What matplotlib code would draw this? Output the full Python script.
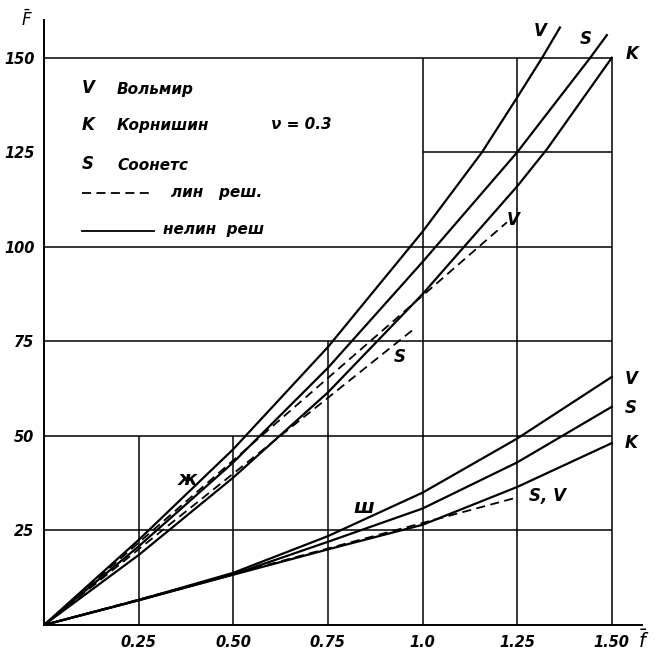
import matplotlib
matplotlib.use("Agg")
import matplotlib.pyplot as plt

# clamped plate (ж) - nonlinear solutions
f_up_V = [0, 0.25, 0.5, 0.75, 1.0, 1.157, 1.25, 1.316, 1.363]
F_up_V = [0, 22.5, 46.5, 73.5, 104, 125, 139.5, 150, 158]
f_up_S = [0, 0.25, 0.5, 0.75, 1.0, 1.25, 1.443, 1.487]
F_up_S = [0, 20.8, 43, 68, 96, 125, 150, 156]
f_up_K = [0, 0.25, 0.5, 0.75, 1.0, 1.25, 1.33, 1.5]
F_up_K = [0, 18.5, 39, 61.5, 87.5, 116, 126, 150]
# clamped plate - linear solutions
f_up_lin_V = [0, 1.223]
F_up_lin_V = [0, 106.5]
f_up_lin_S = [0, 0.98]
F_up_lin_S = [0, 78.5]

# hinged plate (ш) - nonlinear solutions
f_lo = [0, 0.25, 0.5, 0.75, 1.0, 1.25, 1.5]
F_lo_V = [0, 6.6, 13.8, 23.5, 35, 49.3, 65.6]
F_lo_S = [0, 6.5, 13.4, 22, 30.8, 43, 57.7]
F_lo_K = [0, 6.6, 13.3, 20, 26.5, 36.5, 48.1]
# hinged plate - linear solution (S, V)
f_lo_lin = [0, 1.245]
F_lo_lin = [0, 33.6]

x_ticks = [0.25, 0.5, 0.75, 1.0, 1.25, 1.5]
x_labels = ["0.25", "0.50", "0.75", "1.0", "1.25", "1.50"]
y_ticks = [25, 50, 75, 100, 125, 150]
y_labels = ["25", "50", "75", "100", "125", "150"]

fig = plt.figure(figsize=(6.59, 6.52), dpi=100)
ax = fig.add_axes([0.0668, 0.0414, 0.9075, 0.928])
ax.set_xlim(0, 1.58)
ax.set_ylim(0, 160)

font = dict(family="DejaVu Sans", style="italic", weight="bold")

# staircase grid as in the original drawing
glw = 1.1
ax.hlines([150, 100, 75, 50, 25], 0, 1.5, color="black", lw=glw)
ax.hlines(125, 1.0, 1.5, color="black", lw=glw)
ax.vlines([0.25, 0.5], 0, 50, color="black", lw=glw)
ax.vlines(0.75, 0, 75, color="black", lw=glw)
ax.vlines([1.0, 1.25, 1.5], 0, 150, color="black", lw=glw)

lw = 1.6
ax.plot(f_up_V, F_up_V, color="black", lw=lw)
ax.plot(f_up_S, F_up_S, color="black", lw=lw)
ax.plot(f_up_K, F_up_K, color="black", lw=lw)
ax.plot(f_up_lin_V, F_up_lin_V, color="black", lw=1.3, ls=(0, (5, 3)))
ax.plot(f_up_lin_S, F_up_lin_S, color="black", lw=1.3, ls=(0, (5, 3)))

ax.plot(f_lo, F_lo_V, color="black", lw=lw)
ax.plot(f_lo, F_lo_S, color="black", lw=lw)
ax.plot(f_lo, F_lo_K, color="black", lw=lw)
ax.plot(f_lo_lin, F_lo_lin, color="black", lw=1.3, ls=(0, (5, 3)))

# curve labels
ax.text(1.31, 157, "V", fontsize=12, ha="center", va="center", **font)
ax.text(1.43, 155, "S", fontsize=12, ha="center", va="center", **font)
ax.text(1.553, 151, "K", fontsize=12, ha="center", va="center", **font)
ax.text(1.24, 107, "V", fontsize=12, ha="center", va="center", **font)
ax.text(0.94, 71, "S", fontsize=12, ha="center", va="center", **font)
ax.text(1.55, 65, "V", fontsize=12, ha="center", va="center", **font)
ax.text(1.55, 57.5, "S", fontsize=12, ha="center", va="center", **font)
ax.text(1.55, 48, "K", fontsize=12, ha="center", va="center", **font)
ax.text(1.33, 34, "S, V", fontsize=12, ha="center", va="center", **font)
ax.text(0.38, 38.5, "ж", fontsize=14, ha="center", va="center", **font)
ax.text(0.845, 31, "ш", fontsize=14, ha="center", va="center", **font)

# legend block
ax.text(0.1, 142, "V", fontsize=12, va="center", **font)
ax.text(0.193, 141.5, "Вольмир", fontsize=11, va="center", **font)
ax.text(0.1, 132.3, "K", fontsize=12, va="center", **font)
ax.text(0.193, 132, "Корнишин", fontsize=11, va="center", **font)
ax.text(0.6, 132.3, "ν = 0.3", fontsize=11, va="center", **font)
ax.text(0.1, 122, "S", fontsize=12, va="center", **font)
ax.text(0.193, 121.5, "Соонетс", fontsize=11, va="center", **font)
ax.plot([0.1, 0.285], [114.3, 114.3], color="black", lw=1.3, ls=(0, (5, 3)))
ax.text(0.335, 114.5, "лин   реш.", fontsize=11, va="center", **font)
ax.plot([0.1, 0.29], [104.3, 104.3], color="black", lw=1.3)
ax.text(0.315, 104.5, "нелин  реш", fontsize=11, va="center", **font)

ax.set_xticks(x_ticks)
ax.set_xticklabels(x_labels, fontsize=10.5, **font)
ax.set_yticks(y_ticks)
ax.set_yticklabels(y_labels, fontsize=10.5, **font)
ax.tick_params(length=0, pad=7)

ax.spines["top"].set_visible(False)
ax.spines["right"].set_visible(False)
ax.spines["left"].set_linewidth(1.4)
ax.spines["bottom"].set_linewidth(1.4)

ax.text(-0.045, 160, r"$\bar{F}$", fontsize=12, ha="center", va="center")
ax.text(1.583, -4, r"$\bar{f}$", fontsize=14, ha="center", va="center", clip_on=False)

fig.savefig("out.png", dpi=100)
